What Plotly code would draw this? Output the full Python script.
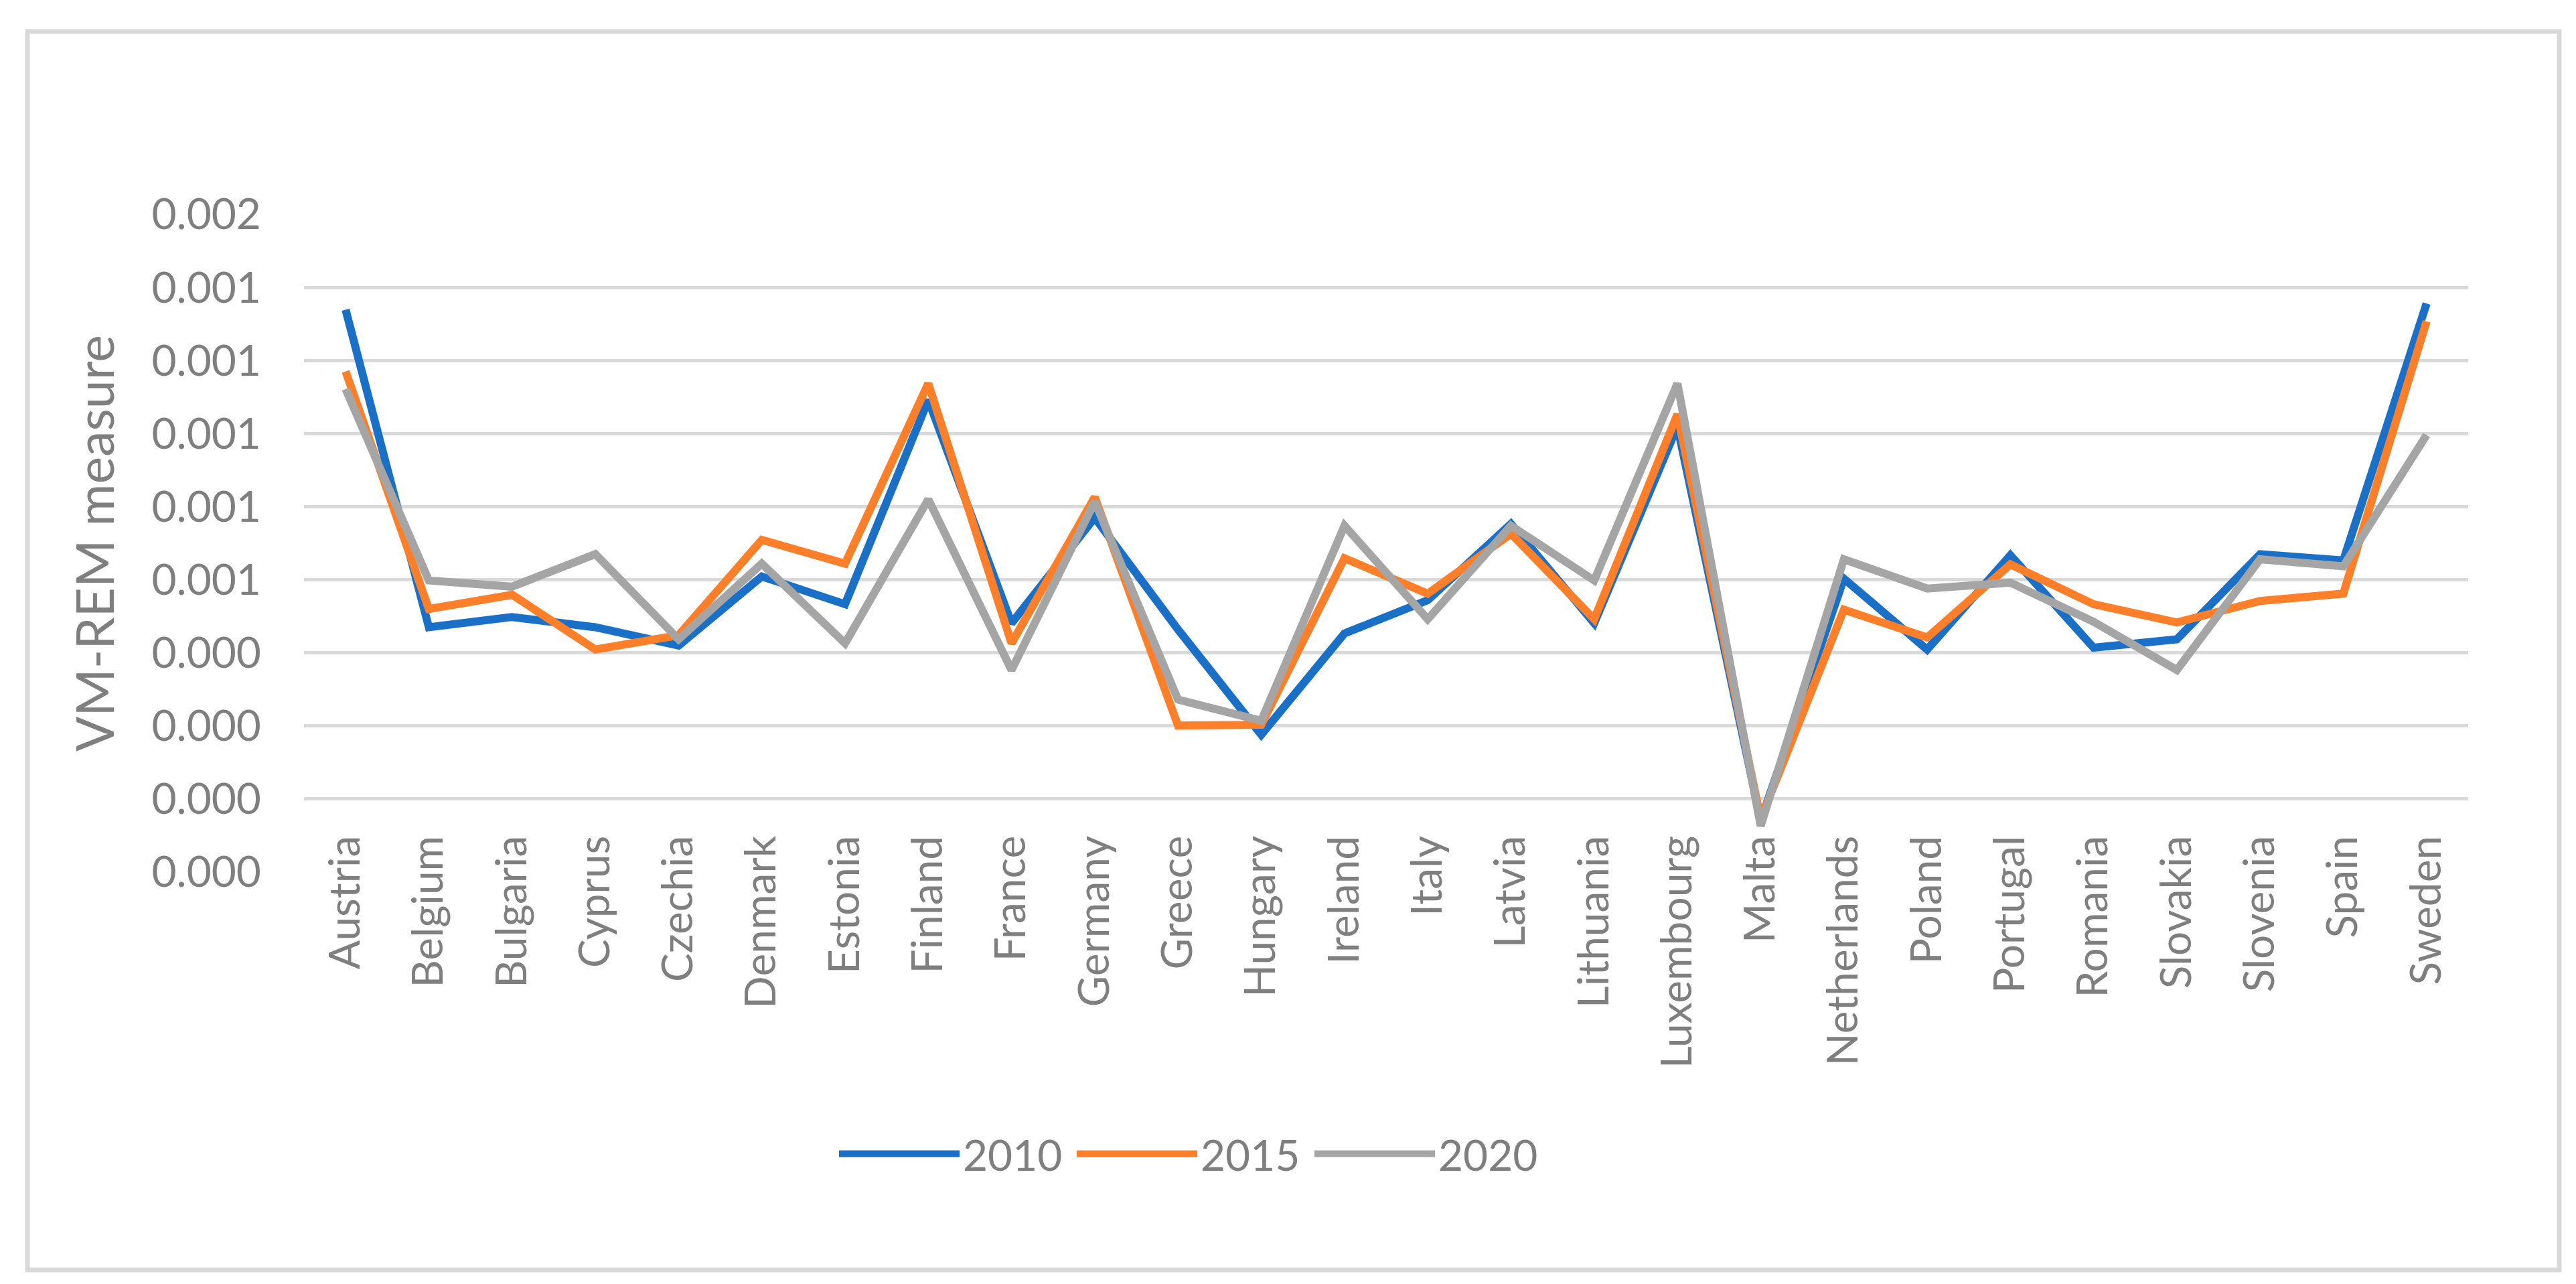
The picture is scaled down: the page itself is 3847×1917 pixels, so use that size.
import plotly.graph_objects as go

countries = ["Austria", "Belgium", "Bulgaria", "Cyprus", "Czechia", "Denmark", "Estonia",
             "Finland", "France", "Germany", "Greece", "Hungary", "Ireland", "Italy",
             "Latvia", "Lithuania", "Luxembourg", "Malta", "Netherlands", "Poland",
             "Portugal", "Romania", "Slovakia", "Slovenia", "Spain", "Sweden"]

v2010 = [0.001339, 0.000470, 0.000498, 0.000470, 0.000420, 0.000609, 0.000533,
         0.001092, 0.000481, 0.000770, 0.000464, 0.000176, 0.000453, 0.000544,
         0.000753, 0.000481, 0.001020, -0.000060, 0.000603, 0.000409,
         0.000667, 0.000414, 0.000437, 0.000670, 0.000653, 0.001356]
v2015 = [0.001170, 0.000520, 0.000559, 0.000409, 0.000448, 0.000709, 0.000644,
         0.001137, 0.000426, 0.000826, 0.000201, 0.000203, 0.000659, 0.000562,
         0.000726, 0.000492, 0.001053, -0.000055, 0.000518, 0.000442,
         0.000642, 0.000533, 0.000483, 0.000542, 0.000562, 0.001307]
v2020 = [0.001122, 0.000598, 0.000581, 0.000670, 0.000437, 0.000644, 0.000426,
         0.000820, 0.000353, 0.000814, 0.000272, 0.000214, 0.000748, 0.000492,
         0.000748, 0.000598, 0.001137, -0.000074, 0.000656, 0.000576,
         0.000592, 0.000485, 0.000353, 0.000656, 0.000637, 0.000996]

series_names = ["2010", "2015", "2020"]
series_colors = ["#1a70c6", "#fe7f2a", "#a5a5a5"]

y_tickvals = [-0.0002, 0.0, 0.0002, 0.0004, 0.0006, 0.0008, 0.0010, 0.0012, 0.0014, 0.0016]
y_ticktext = ["0.000", "0.000", "0.000", "0.000", "0.001", "0.001", "0.001", "0.001", "0.001", "0.002"]

W, H = 3847, 1917
L, R, T, B = 446, 3678, 312, 1294  # plot area in px


def px_x(px):
    return (px - L) / (R - L)


def px_y(py):
    return (B - py) / (B - T)


fig = go.Figure()
for name, vals, col in zip(series_names, [v2010, v2015, v2020], series_colors):
    fig.add_trace(go.Scatter(x=countries, y=vals, mode="lines", name=name,
                             line=dict(color=col, width=12)))

tick_font = dict(family="Lato, 'Open Sans', sans-serif", size=64, color="#7f7f7f")

fig.update_layout(
    width=W, height=H,
    margin=dict(l=L, r=W - R, t=T, b=H - B, autoexpand=False),
    paper_bgcolor="white", plot_bgcolor="white",
    showlegend=True,
    legend=dict(orientation="h", x=px_x(1240), xanchor="left", y=px_y(1715), yanchor="middle",
                font=tick_font, itemwidth=180, entrywidth=160, entrywidthmode="pixels",
                bgcolor="rgba(0,0,0,0)"),
    xaxis=dict(type="category", categoryorder="array", categoryarray=countries,
               range=[-0.5, len(countries) - 0.5], tickangle=-90, showgrid=False,
               showline=False, zeroline=False, ticks="", tickfont=tick_font,
               anchor="free", position=px_y(1226), automargin=False),
    yaxis=dict(range=[-0.0002, 0.0016], tickvals=y_tickvals, ticktext=y_ticktext,
               showgrid=True, gridcolor="#d9d9d9", gridwidth=5, zeroline=False,
               showline=False, ticks="", tickfont=tick_font, ticklabelstandoff=63,
               automargin=False,
               title=dict(text="VM-REM measure", standoff=30,
                          font=dict(family="Lato, 'Open Sans', sans-serif", size=77,
                                    color="#7f7f7f"))),
    shapes=[dict(type="rect", xref="paper", yref="paper",
                 x0=px_x(33), x1=px_x(3814), y0=px_y(1888), y1=px_y(39),
                 line=dict(color="#d9d9d9", width=7), layer="below")],
)

fig.write_html("out.html")
